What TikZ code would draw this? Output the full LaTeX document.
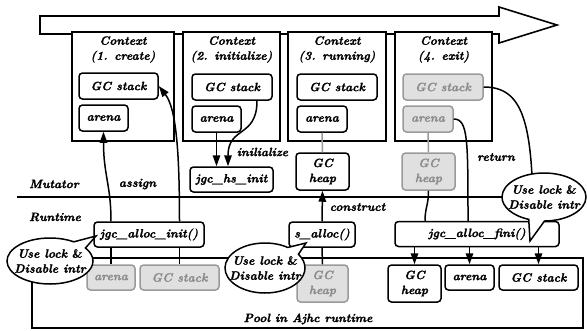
\documentclass[tikz,border=0pt]{standalone}
\usepackage{fontspec}
\setmainfont{Latin Modern Roman}[BoldItalicFeatures={FakeBold=1.5},BoldFeatures={FakeBold=1.5}]
\usetikzlibrary{shapes.callouts,shapes.geometric,arrows.meta,calc}
\definecolor{gfill}{HTML}{E0E0E0}
\definecolor{gdraw}{HTML}{9A9A9A}
\definecolor{gtext}{HTML}{8C8C8C}
\newcommand{\amp}{{\upshape\&}}
\tikzset{
 every node/.style={font=\fontsize{12}{15}\selectfont\bfseries\itshape},
 ctx/.style={draw, line width=1.6pt, fill=white, inner sep=0pt, rectangle},
 bx/.style={draw, line width=1.5pt, rounded corners=3.5pt, fill=white, inner sep=0pt, align=center},
 gbx/.style={bx, draw=gdraw, fill=gfill, text=gtext},
 conn/.style={line width=1.5pt},
 arr/.style={conn, -{Triangle[length=11pt,width=7.5pt]}},
 gline/.style={line width=1.5pt, draw=gdraw},
 bubble/.style={ellipse callout, draw, line width=1.5pt, fill=white, inner sep=0pt, callout pointer arc=22},
 lbl/.style={inner sep=0pt, align=center},
}
\begin{document}
\begin{tikzpicture}[x=1pt,y=-1pt]
\useasboundingbox (0,0) rectangle (587,330);
% time arrow
\draw[line width=1.6pt, fill=white] (40,16) -- (499,16) -- (499,7) -- (557,25) -- (499,43) -- (499,34) -- (40,34) -- cycle;
% context boxes
\node[ctx, minimum width=102pt, minimum height=109pt] (ctx1) at (123,86.5) {};
\node[ctx, minimum width=97pt, minimum height=109pt] (ctx2) at (231.5,86.5) {};
\node[ctx, minimum width=98pt, minimum height=109pt] (ctx3) at (337,86.5) {};
\node[ctx, minimum width=97pt, minimum height=109pt] (ctx4) at (443.5,86.5) {};
\node[lbl] (t1) at (123,49.5) {Context\\(1. create)};
\node[lbl] (t2) at (231.5,49.5) {Context\\(2. initialize)};
\node[lbl] (t3) at (337,49.5) {Context\\(3. running)};
\node[lbl] (t4) at (443.5,49.5) {Context\\(4. exit)};
% inner boxes
\node[bx, minimum width=79pt, minimum height=26pt] (b1stack) at (118.5,86) {GC stack};
\node[bx, minimum width=49pt, minimum height=26pt] (b1arena) at (103.5,118) {arena};
\node[bx, minimum width=80pt, minimum height=26pt] (b2stack) at (232,87) {GC stack};
\node[bx, minimum width=49pt, minimum height=26pt] (b2arena) at (216.5,119) {arena};
\node[bx, minimum width=80pt, minimum height=26pt] (b3stack) at (337,87) {GC stack};
\node[bx, minimum width=50pt, minimum height=26pt] (b3arena) at (322,119) {arena};
\node[gbx, minimum width=80pt, minimum height=26pt] (b4stack) at (443,87) {GC stack};
\node[gbx, minimum width=50pt, minimum height=26pt] (b4arena) at (428,119) {arena};
% mutator boxes
\node[bx, minimum width=83pt, minimum height=25pt] (hsinit) at (231.5,179.5) {jgc\_hs\_init};
\node[bx, minimum width=53pt, minimum height=37pt] (heap3) at (322.5,171.5) {GC\\heap};
\node[gbx, minimum width=53pt, minimum height=37pt] (heap4) at (428.5,171.5) {GC\\heap};
% pool
\node[ctx, fill=none, minimum width=551pt, minimum height=70pt] (pool) at (307.5,293) {};
\node[lbl] (pooltxt) at (308,319) {Pool in Ajhc runtime};
% separator
\coordinate (sepL) at (17,197);
\coordinate (sepR) at (585,197);
\draw[conn] (sepL) -- (sepR);
% runtime boxes
\node[bx, minimum width=110pt, minimum height=25pt] (allocinit) at (149,234.5) {jgc\_alloc\_init()};
\node[bx, minimum width=66pt, minimum height=25pt] (salloc) at (322,234.5) {s\_alloc()};
\node[bx, minimum width=164pt, minimum height=25pt] (allocfini) at (477,234) {jgc\_alloc\_fini()};
% pool boxes
\node[gbx, minimum width=48pt, minimum height=25pt] (parena) at (111,277.5) {arena};
\node[gbx, minimum width=79pt, minimum height=25pt] (pstack) at (179.5,277.5) {GC stack};
\node[gbx, minimum width=51pt, minimum height=37pt] (pheap) at (322.5,283.5) {GC\\heap};
\node[bx, minimum width=53pt, minimum height=37pt] (fheap) at (414.5,283.5) {GC\\heap};
\node[bx, minimum width=49pt, minimum height=25pt] (farena) at (469.5,277.5) {arena};
\node[bx, minimum width=79pt, minimum height=25pt] (fstack) at (538.5,277.5) {GC stack};
% labels
\node[lbl] (lmut) at (54,184) {Mutator};
\node[lbl] (lassign) at (137.5,184) {assign};
\node[lbl] (lrun) at (55,217) {Runtime};
\node[lbl] (linit) at (262.5,152) {inilialize};
\node[lbl] (lcons) at (357.5,207) {construct};
\node[lbl] (lret) at (496,157) {return};
% connectors: create
\draw[arr] (allocinit.north -| parena.north) .. controls (111,185) and (103.5,175) .. (b1arena.south);
\draw[arr] (allocinit.north -| pstack.north) .. controls (179.5,150) and (176,108) .. (b1stack.east);
\draw[conn] (allocinit.south -| parena.north) -- (parena.north);
\draw[conn] (allocinit.south -| pstack.north) -- (pstack.north);
% initialize
\draw[arr] (b2arena.south) -- (b2arena.south |- hsinit.north);
\draw[arr] ($(b2stack.south)+(25,0)$) .. controls (257,138) and (228,126) .. ($(hsinit.north)+(-3.5,0)$);
% running
\draw[gline] (b3arena.south) -- (heap3.north);
\draw[arr] (salloc.north) -- (heap3.south);
\draw[conn] (salloc.south) -- (pheap.north);
% exit
\draw[gline] (b4arena.south) -- (heap4.north);
\draw[conn] (heap4.south) .. controls (428.5,205) and (425,208) .. ($(allocfini.north)+(-52,0)$);
\draw[conn] (b4arena.east) .. controls (468,119) and (468,140) .. ($(allocfini.north)+(-9,0)$);
\draw[conn] (b4stack.east) .. controls (522,87) and (533,120) .. ($(allocfini.north)+(56,0)$);
\draw[arr] (allocfini.south -| fheap.north) -- (fheap.north);
\draw[arr] (allocfini.south -| farena.north) -- (farena.north);
\draw[arr] (allocfini.south -| fstack.north) -- (fstack.north);
% callouts
\node[bubble, minimum width=86pt, minimum height=46pt, callout absolute pointer={(96,236)}] (c1) at (50,261) {};
\node[lbl] (c1t) at (c1.center) {Use lock \amp\\Disable intr};
\node[bubble, minimum width=80pt, minimum height=50pt, callout absolute pointer={(306,243)}] (c2) at (265,268) {};
\node[lbl] (c2t) at (c2.center) {Use lock \amp\\Disable intr};
\node[bubble, minimum width=84pt, minimum height=48pt, callout absolute pointer={(530,241)}] (c3) at (544,197) {};
\node[lbl] (c3t) at (c3.center) {Use lock \amp\\Disable intr};
\end{tikzpicture}
\end{document}
